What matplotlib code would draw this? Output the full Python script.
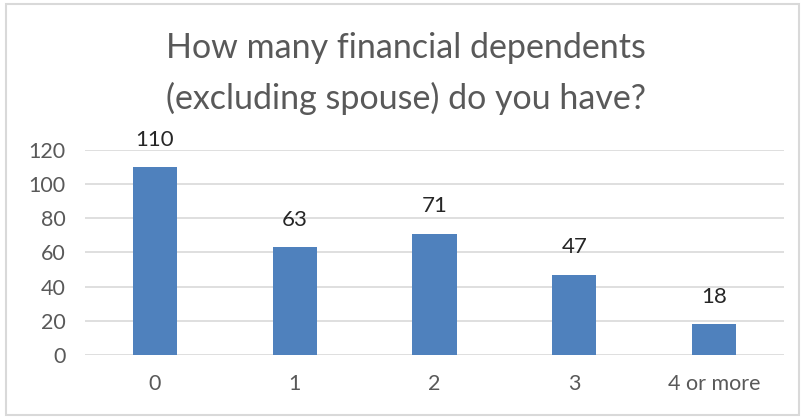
import matplotlib.pyplot as plt
from matplotlib.patches import Rectangle

categories = ['0', '1', '2', '3', '4 or more']
counts = [110, 63, 71, 47, 18]
y_ticks = [0, 20, 40, 60, 80, 100, 120]

plt.rcParams['font.family'] = ['Lato', 'DejaVu Sans']

fig = plt.figure(figsize=(8.01, 4.17), dpi=100)
ax = fig.add_axes([0.1061, 0.1487, 0.8727, 0.4916])

x = range(len(categories))
bars = ax.bar(x, counts, width=0.315, color='#4F81BD', zorder=3)
for b, v in zip(bars, counts):
    ax.annotate(str(v), (b.get_x() + b.get_width() / 2, v), xytext=(0, 12.5),
                textcoords='offset points', ha='center', va='bottom',
                fontsize=16, color='#262626')

ax.set_xlim(-0.5, len(categories) - 0.5)
ax.set_ylim(0, 120)
ax.set_yticks(y_ticks)
ax.set_xticks(list(x))
ax.set_xticklabels(categories)
ax.tick_params(axis='both', length=0, labelsize=15.5, labelcolor='#595959')
ax.tick_params(axis='x', pad=14)
ax.tick_params(axis='y', pad=14)
ax.grid(axis='y', color='#D9D9D9', linewidth=1.2, zorder=0)
for s in ax.spines.values():
    s.set_visible(False)

fig.text(0.507, 0.885, 'How many financial dependents', ha='center', va='center',
         fontsize=24.5, color='#595959')
fig.text(0.507, 0.765, '(excluding spouse) do you have?', ha='center', va='center',
         fontsize=24.5, color='#595959')

fig.patches.append(Rectangle((0.007, 0.005), 0.99, 0.985, transform=fig.transFigure,
                             fill=False, edgecolor='#D9D9D9', linewidth=1.5))

fig.savefig('out.png', dpi=100)
